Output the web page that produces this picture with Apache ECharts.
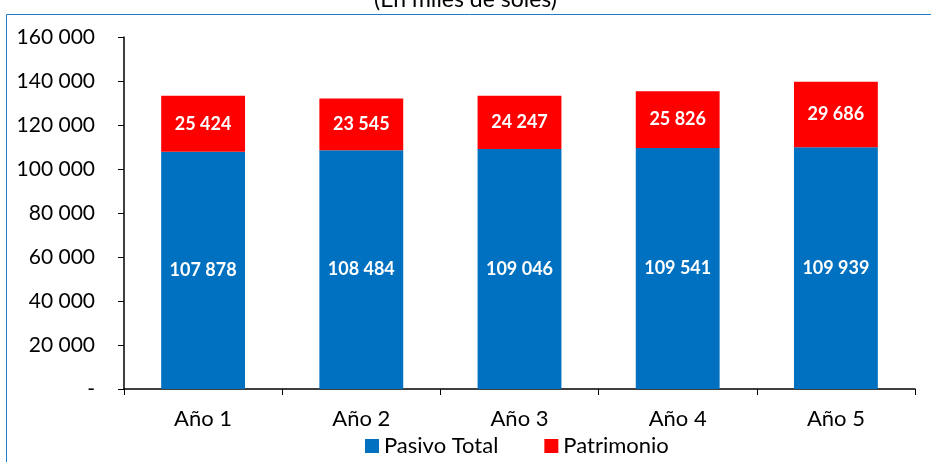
<!DOCTYPE html>
<html>
<head>
<meta charset="utf-8">
<script src="https://cdn.jsdelivr.net/npm/echarts@6/dist/echarts.min.js"></script>
<style>
	html, body { margin: 0; padding: 0; background: #fff; }
	#chart { width: 931px; height: 462px; }
</style>
</head>
<body>
<div id="chart"></div>
<script>
const categories = ['Año 1', 'Año 2', 'Año 3', 'Año 4', 'Año 5']
const pasivoTotal = [107878, 108484, 109046, 109541, 109939]
const patrimonio = [25424, 23545, 24247, 25826, 29686]

const fmt = (v) => (v === 0 ? '-' : String(v).replace(/\B(?=(\d{3})+(?!\d))/g, ' '))

const FONT = 'Lato'

const chart = echarts.init(document.getElementById('chart'))

const option = {
	animation: false,
	textStyle: { fontFamily: FONT },
	title: {
		text: '(En miles de soles)',
		left: 'center',
		top: -17,
		textStyle: { fontFamily: FONT, fontSize: 23, fontWeight: 'normal', color: '#000' },
	},
	graphic: [
		{
			type: 'rect',
			shape: { x: 6.5, y: 14.5, width: 940, height: 460 },
			style: { fill: 'none', stroke: '#1B7DCB', lineWidth: 1 },
			z: -1,
		},
	],
	legend: {
		left: 360,
		top: 430,
		itemWidth: 14,
		itemHeight: 14,
		itemGap: 46,
		icon: 'rect',
		textStyle: { fontFamily: FONT, fontSize: 22, color: '#000' },
		data: ['Pasivo Total', 'Patrimonio'],
	},
	grid: { left: 124, right: 16, top: 37, bottom: 73, containLabel: false },
	xAxis: {
		type: 'category',
		data: categories,
		axisLine: { lineStyle: { color: '#000', width: 1.5 } },
		axisTick: { show: true, length: 6, lineStyle: { color: '#000' } },
		axisLabel: { fontFamily: FONT, fontSize: 22, color: '#000', margin: 19 },
	},
	yAxis: {
		type: 'value',
		min: 0,
		max: 160000,
		interval: 20000,
		splitLine: { show: false },
		axisLine: { show: true, lineStyle: { color: '#000', width: 1.5 } },
		axisTick: { show: true, length: 6, lineStyle: { color: '#000' } },
		axisLabel: {
			fontFamily: FONT,
			fontSize: 21,
			color: '#000',
			margin: 29,
			formatter: fmt,
		},
	},
	series: [
		{
			name: 'Pasivo Total',
			type: 'bar',
			stack: 'total',
			barWidth: '53%',
			data: pasivoTotal,
			itemStyle: { color: '#0070C0' },
			label: {
				show: true,
				position: 'inside',
				color: '#fff',
				fontFamily: FONT,
				fontWeight: 'bold',
				fontSize: 18,
				formatter: (p) => fmt(p.value),
			},
		},
		{
			name: 'Patrimonio',
			type: 'bar',
			stack: 'total',
			data: patrimonio,
			itemStyle: { color: '#FF0000' },
			label: {
				show: true,
				position: 'inside',
				color: '#fff',
				fontFamily: FONT,
				fontWeight: 'bold',
				fontSize: 18,
				formatter: (p) => fmt(p.value),
			},
		},
	],
}

chart.setOption(option)
</script>
</body>
</html>
